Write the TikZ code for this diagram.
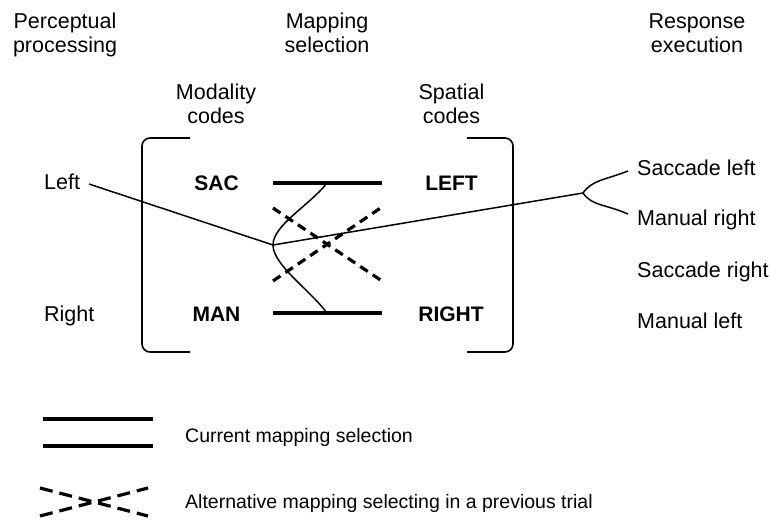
\documentclass[tikz,border=0pt]{standalone}
\usepackage{fontspec}
\setmainfont{Liberation Sans}
\begin{document}
\begin{tikzpicture}[x=1pt,y=-1pt,
  head/.style={inner sep=0pt, anchor=base, align=center,
    font=\fontsize{21.5}{24}\selectfont},
  side/.style={inner sep=0pt, anchor=base west,
    font=\fontsize{21.5}{24}\selectfont},
  code/.style={inner sep=0pt, anchor=base,
    font=\fontsize{21}{24}\selectfont\bfseries},
  legtext/.style={inner sep=0pt, anchor=base west,
    font=\fontsize{19.5}{22}\selectfont},
  thinline/.style={line width=1.5pt},
  bracket/.style={line width=1.6pt, rounded corners=8pt},
  current/.style={line width=3.5pt},
  previous/.style={line width=3.2pt, dash pattern=on 9pt off 6pt},
  prevlegend/.style={line width=3.2pt, dash pattern=on 13pt off 7pt}]
\useasboundingbox (0,0) rectangle (771,520);

% stage headings (anchored at the baseline of their last line)
\node[head] (perc)   at (65,52)     {Perceptual\\processing};
\node[head] (mapsel) at (327,52)    {Mapping\\selection};
\node[head] (resp)   at (697,52)    {Response\\execution};
\node[head] (modc)   at (216,123)   {Modality\\codes};
\node[head] (spac)   at (451.5,123) {Spatial\\codes};

% stimuli
\node[side] (stimL) at (44,189) {Left};
\node[side] (stimR) at (44,321) {Right};

% codes
\node[code] (sac)   at (216.5,190) {SAC};
\node[code] (man)   at (216.5,321) {MAN};
\node[code] (lft)   at (451.5,190) {LEFT};
\node[code] (rgt)   at (451,321)   {RIGHT};

% responses
\node[side] (sacL) at (637,175) {Saccade left};
\node[side] (manR) at (637,225) {Manual right};
\node[side] (sacR) at (637,277) {Saccade right};
\node[side] (manL) at (637,328) {Manual left};

% brackets around the code sets
\draw[bracket] (190,138) -- (142,138) -- (142,352) -- (190,352);
\draw[bracket] (467,138) -- (513,138) -- (513,352) -- (467,352);

% current mapping
\coordinate (topA) at (273,183);
\coordinate (topB) at (382,183);
\coordinate (botA) at (273,313);
\coordinate (botB) at (382,313);
\draw[current] (topA) -- (topB);
\draw[current] (botA) -- (botB);

% mapping of the previous trial
\draw[previous] (273,208) -- (382,281);
\draw[previous] (273,281) -- (382,207);

% route from stimulus to response
\coordinate (inL)   at (89,184);
\coordinate (pivot) at (273,245);
\coordinate (fork)  at (583,193);
\coordinate (endS)  at (628,171);
\coordinate (endM)  at (628,214);
\draw[thinline] (327,183) .. controls (310,205) and (273,225) .. (pivot)
  .. controls (273,265) and (310,290) .. (327,313);
\draw[thinline] (inL) -- (pivot) -- (fork);
\draw[thinline] (fork) .. controls (592,180) and (605,180) .. (endS);
\draw[thinline] (fork) .. controls (592,206) and (605,204) .. (endM);

% legend
\draw[current] (43,419) -- (153,419);
\draw[current] (43,446) -- (153,446);
\node[legtext] (curlab) at (185,442) {Current mapping selection};
\draw[prevlegend] (40,488) -- (148,516);
\draw[prevlegend] (40,516) -- (148,488);
\node[legtext] (altlab) at (185,508) {Alternative mapping selecting in a previous trial};
\end{tikzpicture}
\end{document}
